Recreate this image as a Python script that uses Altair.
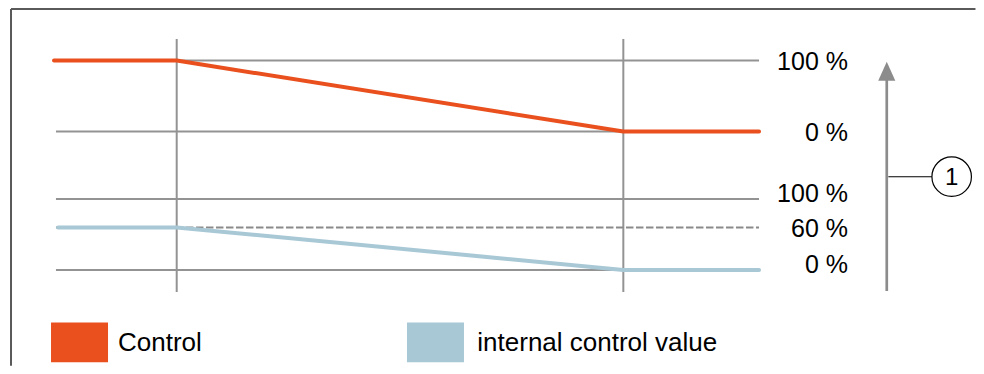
import altair as alt
import pandas as pd

# ---------------- data ----------------
SERIES = ["Control", "internal control value"]
COLORS = ["#e9501e", "#a8c8d6"]

# time in arbitrary units: start of the ramp = 1
CONTROL_T = [0.0, 1.0, 4.64, 5.746]
CONTROL_PCT = [100, 100, 0, 0]
INTERNAL_T = [0.033, 1.0, 4.64, 5.746]
INTERNAL_PCT = [60, 60, 0, 0]

MARKER_T = [1.0, 4.64]  # vertical marker lines

TOP_LEVELS = [100, 0]
TOP_LABELS = ["100 %", "0 %"]
BOTTOM_LEVELS = [100, 0]
BOTTOM_LABELS = ["100 %", "0 %"]
THRESHOLD_LEVELS = [60]
THRESHOLD_LABELS = ["60 %"]
CALLOUT_LABELS = ["1"]

# ---------------- layout (diagram units) ----------------
TOP_OFFSET = 195          # the upper panel sits this far above the lower one
GRID_T = (0.016, 5.746)
MARKER_PCT = (-31.0, 325.4)
LABEL_T = 6.471
ARROW_T = 6.787
ARROW_SHAFT = (-29.6, 275.0)
ARROW_HEAD_PCT = 279.9
CALLOUT_T = 7.316
CALLOUT_PCT = 131.4
CONNECT_T = (6.80, 7.155)
FRAME_L, FRAME_R = -0.3504, 7.51
FRAME_T, FRAME_B = 367.6, -135.0
LEGEND_SWATCH_T = [0.208, 3.109]
LEGEND_TEXT_T = [0.5216, 3.45]
LEGEND_PCT = -102.0

FONT = "Liberation Sans"
GRID = "#939393"
ARROW = "#8c8c8c"

X_SCALE = alt.Scale(domain=[0, 1], range=[46, 168.7], nice=False, zero=False)
Y_SCALE = alt.Scale(domain=[0, 100], range=[262, 191], nice=False, zero=False)
COLOR_SCALE = alt.Scale(domain=SERIES, range=COLORS)


def X(f):
    return alt.X(f, type="quantitative", scale=X_SCALE, axis=None)


def Y(f):
    return alt.Y(f, type="quantitative", scale=Y_SCALE, axis=None)


# frame (top + left edge; right/bottom run off the picture)
frame_df = pd.DataFrame({
    "x0": [FRAME_L, FRAME_L], "x1": [FRAME_R, FRAME_L],
    "y0": [FRAME_T, FRAME_B], "y1": [FRAME_T, FRAME_T],
})
frame = alt.Chart(frame_df).mark_rule(color="#5a5a5a", strokeWidth=2).encode(
    x=X("x0"), x2=alt.X2("x1"), y=Y("y0"), y2=alt.Y2("y1"))

# vertical markers
markers_df = pd.DataFrame({"t": MARKER_T, "y0": MARKER_PCT[0], "y1": MARKER_PCT[1]})
markers = alt.Chart(markers_df).mark_rule(color=GRID, strokeWidth=2).encode(
    x=X("t"), y=Y("y0"), y2=alt.Y2("y1"))

# horizontal reference lines
solid_levels = [v + TOP_OFFSET for v in TOP_LEVELS] + list(BOTTOM_LEVELS)
grid_df = pd.DataFrame({"y": solid_levels, "x0": GRID_T[0], "x1": GRID_T[1]})
grid = alt.Chart(grid_df).mark_rule(color=GRID, strokeWidth=2).encode(
    x=X("x0"), x2=alt.X2("x1"), y=Y("y"))

dash_df = pd.DataFrame({"y": THRESHOLD_LEVELS, "x0": GRID_T[0], "x1": GRID_T[1]})
dashed = alt.Chart(dash_df).mark_rule(color="#8a8a8a", strokeWidth=2,
                                      strokeDash=[7.5, 2.5]).encode(
    x=X("x0"), x2=alt.X2("x1"), y=Y("y"))

# signal lines
lines_df = pd.concat([
    pd.DataFrame({"series": SERIES[0], "t": CONTROL_T,
                  "y": [v + TOP_OFFSET for v in CONTROL_PCT]}),
    pd.DataFrame({"series": SERIES[1], "t": INTERNAL_T, "y": INTERNAL_PCT}),
])
lines = alt.Chart(lines_df).mark_line(strokeWidth=4, strokeCap="round",
                                      strokeJoin="round").encode(
    x=X("t"), y=Y("y"),
    stroke=alt.Stroke("series:N", scale=COLOR_SCALE, legend=None))

# legend: filled rectangles + labels
RECT = "M-1,-0.7H1V0.7H-1Z"
legend_df = pd.DataFrame({"series": SERIES, "ts": LEGEND_SWATCH_T,
                          "tt": LEGEND_TEXT_T, "y": LEGEND_PCT})
legend_sw = alt.Chart(legend_df).mark_point(
    filled=True, opacity=1, size=3249, shape=RECT, strokeWidth=0).encode(
    x=X("ts"), y=Y("y"),
    fill=alt.Fill("series:N", scale=COLOR_SCALE, legend=None))
legend_tx = alt.Chart(legend_df).mark_text(
    align="left", baseline="middle", font=FONT, fontSize=26, color="black",
    dy=1).encode(x=X("tt"), y=Y("y"), text="series:N")

# level labels
lab_a = pd.DataFrame({
    "t": LABEL_T,
    "y": [v + TOP_OFFSET for v in TOP_LEVELS] + list(THRESHOLD_LEVELS),
    "label": TOP_LABELS + THRESHOLD_LABELS,
})
labels_a = alt.Chart(lab_a).mark_text(align="right", baseline="middle", font=FONT,
                                      fontSize=25, color="black", dy=1.5).encode(
    x=X("t"), y=Y("y"), text="label:N")
lab_b = pd.DataFrame({"t": LABEL_T, "y": BOTTOM_LEVELS, "label": BOTTOM_LABELS})
labels_b = alt.Chart(lab_b).mark_text(align="right", baseline="middle", font=FONT,
                                      fontSize=25, color="black", dy=-5.5).encode(
    x=X("t"), y=Y("y"), text="label:N")

# arrow
shaft_df = pd.DataFrame({"t": [ARROW_T], "y0": [ARROW_SHAFT[0]], "y1": [ARROW_SHAFT[1]]})
shaft = alt.Chart(shaft_df).mark_rule(color=ARROW, strokeWidth=2.7).encode(
    x=X("t"), y=Y("y0"), y2=alt.Y2("y1"))
head_df = pd.DataFrame({"t": [ARROW_T], "y": [ARROW_HEAD_PCT]})
head = alt.Chart(head_df).mark_point(shape="M0,-1L-0.9,1L0.9,1Z", size=361,
                                     filled=True, color=ARROW, opacity=1).encode(
    x=X("t"), y=Y("y"))

# callout
conn_df = pd.DataFrame({"x0": [CONNECT_T[0]], "x1": [CONNECT_T[1]], "y": [CALLOUT_PCT]})
connector = alt.Chart(conn_df).mark_rule(color="black", strokeWidth=1.1).encode(
    x=X("x0"), x2=alt.X2("x1"), y=Y("y"))
call_df = pd.DataFrame({"t": [CALLOUT_T], "y": [CALLOUT_PCT], "label": CALLOUT_LABELS})
circle = alt.Chart(call_df).mark_point(shape="circle", size=1560, filled=True,
                                       fill="white", stroke="black",
                                       strokeWidth=1.2, opacity=1).encode(
    x=X("t"), y=Y("y"))
call_text = alt.Chart(call_df).mark_text(font=FONT, fontSize=24, color="black",
                                         align="center", baseline="middle",
                                         dy=1).encode(
    x=X("t"), y=Y("y"), text="label:N")

chart = alt.layer(
    frame, markers, grid, dashed, lines, legend_sw, legend_tx, labels_a, labels_b,
    shaft, head, connector, circle, call_text,
).properties(
    width=968, height=358,
    autosize=alt.AutoSizeParams(type="none"),
    padding=0,
).configure_view(stroke=None)

chart.save("out.html", embed_options={"renderer": "svg", "actions": False})
